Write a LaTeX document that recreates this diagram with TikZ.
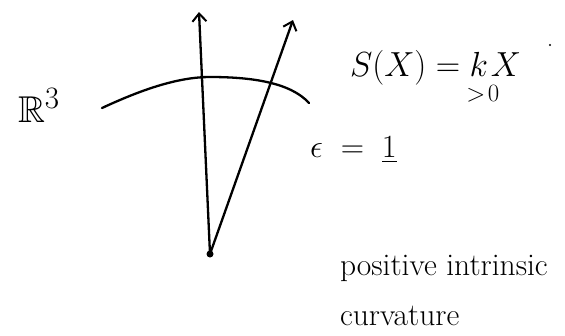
\documentclass[tikz,border=0pt]{standalone}
\usepackage{amssymb}
\usetikzlibrary{arrows.meta}
\tikzset{
  pen/.style={line width=2.3pt, line cap=round, line join=round, black},
  vec/.style={pen, -{Straight Barb[length=8pt,width=14pt,line width=2pt]}},
  lbl/.style={inner sep=0pt, outer sep=0pt, anchor=base west},
}
\newcommand{\sketchmath}[3]{\scalebox{#1}[#2]{\fontsize{24.88}{28}\selectfont$#3$}}
\begin{document}
\begin{tikzpicture}[x=1pt,y=-1pt]
\useasboundingbox (0,0) rectangle (565,335);
\fill[white] (0,0) rectangle (565,335);
% points
\coordinate (O) at (210,254);
\coordinate (A) at (199,12);
\coordinate (B) at (293,20);
% surface arc
\draw[pen] (102,108) .. controls (145,88) and (180,77) .. (210,77)
  .. controls (250,77) and (290,82) .. (309,103);
% vectors
\draw[vec] (O) -- (A);
\draw[vec] (O) -- (B);
\fill (O) circle (3.5pt);
% labels
\node[lbl] (R) at (18,122) {\sketchmath{1.5}{1.5}{\mathbb{R}^3}};
\node[lbl] (S) at (350,76) {\sketchmath{1.36}{1.4}{S(X)={}}};
\node[lbl] (K) at (S.base east) {\sketchmath{1.36}{1.4}{k}};
\node[lbl] (X) at ([xshift=3pt]K.base east) {\sketchmath{1.36}{1.4}{X}};
\node[inner sep=0pt, anchor=north] (gt) at ([xshift=4pt,yshift=-9pt]K.south) {\sketchmath{1}{1}{>\!0}};
\fill (550,45) circle (1.2pt);
\node[lbl] (eps) at (310,157) {\sketchmath{1.3}{1.3}{\epsilon\;=\;\underline{1}}};
\node[lbl] (pos) at (340,275) {\fontsize{31.5}{34}\selectfont positive intrinsic};
\node[lbl] (curv) at (340,325) {\fontsize{31.5}{34}\selectfont curvature};
\end{tikzpicture}
\end{document}
